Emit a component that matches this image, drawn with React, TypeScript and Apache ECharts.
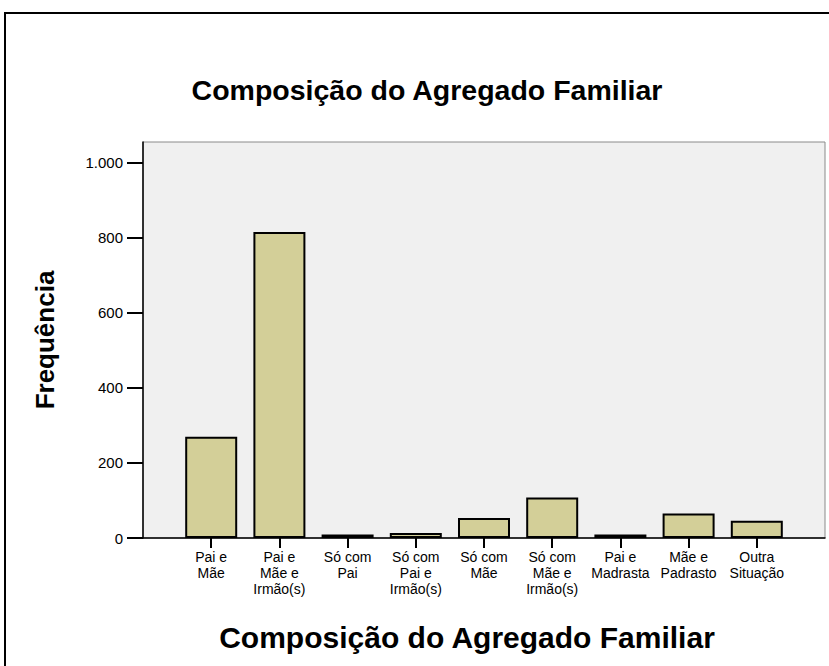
import React, { useEffect, useRef } from "react";
import * as echarts from "echarts";

const categories = [
  "Pai e\nMãe",
  "Pai e\nMãe e\nIrmão(s)",
  "Só com\nPai",
  "Só com\nPai e\nIrmão(s)",
  "Só com\nMãe",
  "Só com\nMãe e\nIrmão(s)",
  "Pai e\nMadrasta",
  "Mãe e\nPadrasto",
  "Outra\nSituação",
];
const frequencies = [270, 815, 9, 13, 53, 108, 9, 65, 46];
const yTicks = [0, 200, 400, 600, 800, 1000];
const chartTitle = "Composição do Agregado Familiar";
const xAxisTitle = "Composição do Agregado Familiar";
const yAxisTitle = "Frequência";

const FONT = '"Liberation Sans", Arial, Helvetica, sans-serif';

function fmt(v: number): string {
  return String(v).replace(/\B(?=(\d{3})+(?!\d))/g, ".");
}

export default function App() {
  const ref = useRef<HTMLDivElement>(null);
  useEffect(() => {
    if (!ref.current) return;
    const chart = echarts.init(ref.current, null, { renderer: "svg" });
    const xCats = ["", ...categories, ""];
    const barData: any[] = ["-", ...frequencies, "-"];
    chart.setOption({
      animation: false,
      backgroundColor: "#ffffff",
      textStyle: { fontFamily: FONT },
      grid: {
        left: 143,
        top: 142,
        width: 682,
        height: 396,
        show: true,
        backgroundColor: "#f0f0f0",
        borderColor: "#8a8a8a",
        borderWidth: 1,
      },
      xAxis: {
        type: "category",
        data: xCats,
        boundaryGap: false,
        axisLine: { show: true, lineStyle: { color: "#000", width: 1.5 } },
        axisTick: {
          show: true,
          length: 10,
          inside: false,
          lineStyle: { color: "#000", width: 2 },
          interval: (_i: number, v: string) => v !== "",
        },
        axisLabel: {
          interval: 0,
          margin: 11,
          color: "#000",
          fontSize: 14,
          lineHeight: 16,
          fontFamily: FONT,
          align: "center",
        },
        splitLine: { show: false },
      },
      yAxis: {
        type: "value",
        min: 0,
        max: 1055,
        axisLine: { show: true, lineStyle: { color: "#000", width: 1.5 } },
        axisTick: {
          show: true,
          length: 16,
          inside: false,
          customValues: yTicks,
          lineStyle: { color: "#000", width: 2 },
        },
        axisLabel: {
          customValues: yTicks,
          margin: 20,
          color: "#000",
          fontSize: 15,
          fontFamily: FONT,
          formatter: (v: number) => fmt(v),
        },
        splitLine: { show: false },
      },
      graphic: [
        {
          type: "rect",
          shape: { x: 5, y: 13, width: 900, height: 800 },
          style: { fill: "none", stroke: "#000", lineWidth: 2 },
          silent: true,
        },
        {
          type: "text",
          x: 427,
          y: 90,
          style: {
            text: chartTitle,
            font: `bold 28.5px ${FONT}`,
            fill: "#000",
            align: "center",
            verticalAlign: "middle",
            textAlign: "center",
            textVerticalAlign: "middle",
          },
        },
        {
          type: "text",
          x: 467,
          y: 637,
          style: {
            text: xAxisTitle,
            font: `bold 30px ${FONT}`,
            fill: "#000",
            align: "center",
            verticalAlign: "middle",
            textAlign: "center",
            textVerticalAlign: "middle",
          },
        },
        {
          type: "text",
          x: 45,
          y: 340,
          rotation: Math.PI / 2,
          style: {
            text: yAxisTitle,
            font: `bold 26px ${FONT}`,
            fill: "#000",
            align: "center",
            verticalAlign: "middle",
            textAlign: "center",
            textVerticalAlign: "middle",
          },
        },
      ],
      series: [
        {
          type: "bar",
          data: barData,
          barWidth: 52,
          itemStyle: { color: "#d3cf98", borderColor: "#000", borderWidth: 2 },
        },
      ],
    });
    return () => chart.dispose();
  }, []);
  return (
    <div
      ref={ref}
      style={{ position: "fixed", left: 0, top: 0, width: 829, height: 666 }}
    />
  );
}
